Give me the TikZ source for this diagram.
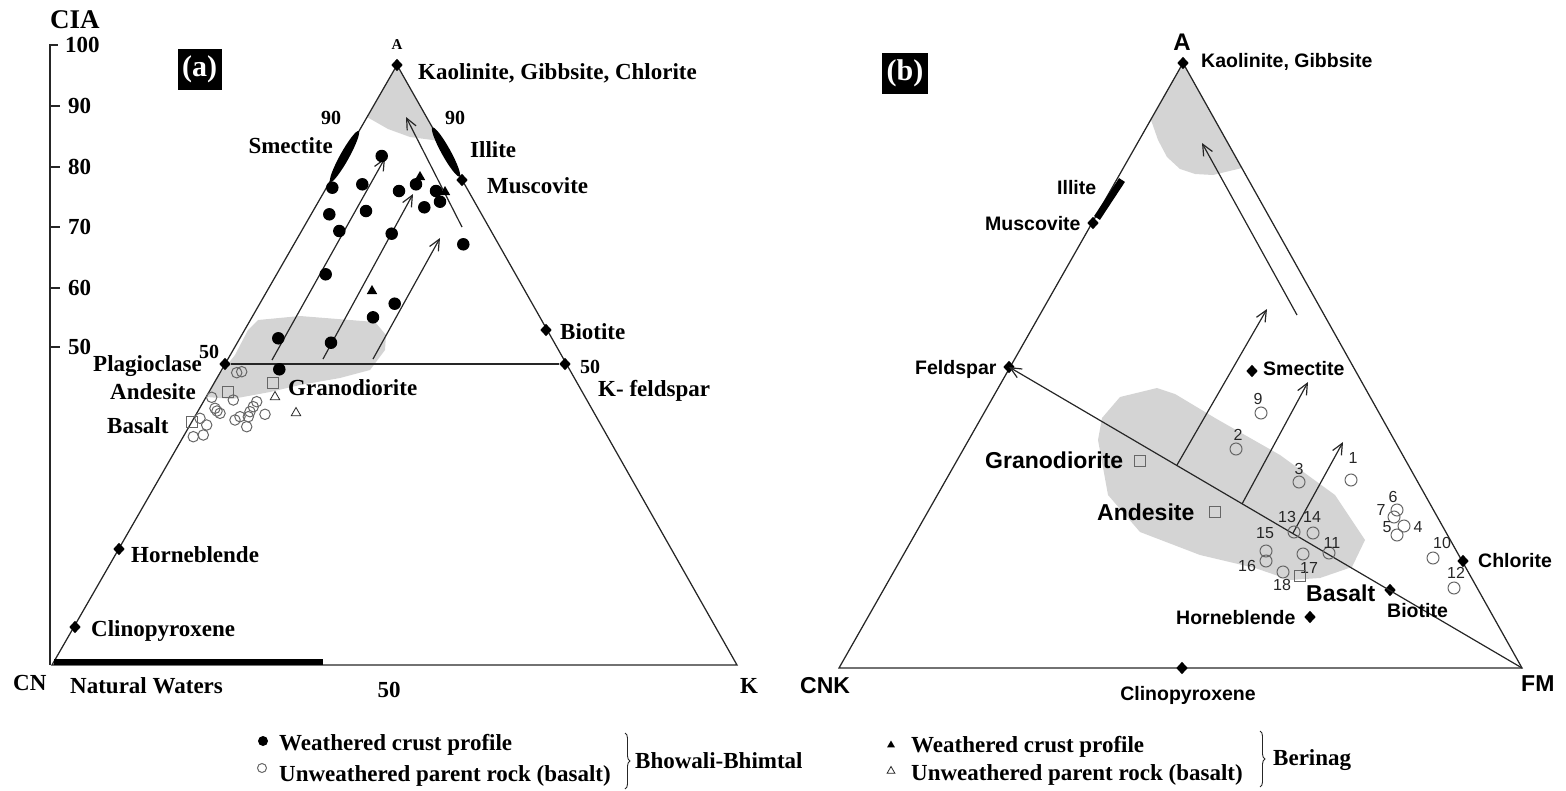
\documentclass[tikz,border=0pt]{standalone}
\usepackage{fontspec}
\setmainfont{Liberation Serif}
\setsansfont{Liberation Sans}
\usetikzlibrary{arrows.meta,shapes.geometric,decorations.pathreplacing}

\definecolor{ink}{HTML}{262626}
\definecolor{fieldgray}{HTML}{D4D4D4}
\definecolor{hollow}{HTML}{666666}

\begin{document}
\begin{tikzpicture}[x=1pt,y=-1pt,
  edge/.style={draw=ink, line width=1.25pt},
  trend/.style={draw=ink, line width=1.2pt, -{Straight Barb[length=11pt,width=10pt,line width=1.2pt]}},
  dia/.style={diamond, fill=black, inner sep=0pt, minimum width=11.5pt, minimum height=12.5pt},
  fdot/.style={circle, fill=black, inner sep=0pt, minimum size=12.5pt},
  odot/.style={circle, draw=hollow, line width=1pt, inner sep=0pt, minimum size=11pt},
  osq/.style={rectangle, draw=hollow, line width=1.1pt, inner sep=0pt, minimum size=11pt},
  ftri/.style={regular polygon, regular polygon sides=3, fill=black, inner sep=0pt, minimum size=12pt},
  otri/.style={regular polygon, regular polygon sides=3, draw=ink, line width=0.8pt, inner sep=0pt, minimum size=11pt},
  ta/.style={font=\bfseries\fontsize{23}{24}\selectfont, inner sep=0pt, text height=15pt, text depth=0pt},
  tsm/.style={font=\bfseries\fontsize{20}{21}\selectfont, inner sep=0pt, text height=13pt, text depth=0pt},
  tcia/.style={font=\bfseries\fontsize{27}{28}\selectfont, inner sep=0pt, text height=18pt, text depth=0pt},
  tb/.style={font=\sffamily\bfseries\fontsize{19.5}{20}\selectfont, inner sep=0pt, text height=14pt, text depth=0pt},
  tbl/.style={font=\sffamily\bfseries\fontsize{23}{24}\selectfont, inner sep=0pt, text height=16.5pt, text depth=0pt},
  tnum/.style={font=\sffamily\fontsize{16}{17}\selectfont, text=ink, inner sep=0pt, text height=11.5pt, text depth=0pt},
  boxlab/.style={fill=black, text=white, font=\bfseries\fontsize{30}{30}\selectfont, minimum width=44pt, minimum height=41pt, inner sep=0pt},
  bracket/.style={draw=ink, line width=0.9pt, decorate, decoration={brace, amplitude=5pt}}
]
\useasboundingbox (0,0) rectangle (1566,790);

% ================= Panel (a): A - CN - K =================
\coordinate (cn) at (52,665);
\coordinate (kk) at (737,665);
\coordinate (aa) at (397,65);

% grey fields
\fill[fieldgray] (397,65) -- (367,117) -- (388,129) -- (410,137) -- (440,141) -- cycle;
\fill[fieldgray] (258,320) -- (300,316) -- (375,322) -- (386,335) -- (385,350) -- (370,370)
  -- (340,378) -- (300,385) -- (270,392) -- (232,399) -- (207,397) -- (215,380)
  -- (235,355) -- (248,330) -- cycle;

% CIA scale
\draw[edge] (50,665) -- (50,45) -- (58,45);
\foreach \v/\yy in {90/106,80/167,70/227,60/288,50/347}
  \draw[edge] (50,\yy) -- (60,\yy);
\node[ta, anchor=west] (s100) at (65,45) {100};
\foreach \v/\yy in {90/106,80/167,70/227,60/288,50/347}
  \node[ta, anchor=west] (s\v) at (68,\yy) {\v};
\node[tcia] (cia) at (75,19) {CIA};

% triangle
\draw[edge] (cn) -- (aa) -- (kk) -- cycle;
\draw[line width=5.5pt, black] (54,662) -- (323,662);

% mineral end members
\node[dia] (aTop) at (aa) {};
\node[dia] (plag) at (225,364) {};
\node[dia] (kfel) at (565,364) {};
\node[dia] (musc) at (462,180) {};
\node[dia] (biot) at (546,330) {};
\node[dia] (hbl) at (119,549) {};
\node[dia] (cpx) at (75,627) {};
\draw[edge] (plag) -- (kfel);

% smectite and illite fields
\fill[black, rotate around={61:(344.5,156.5)}] (344.5,156.5) ellipse (29 and 4.5);
\fill[black, rotate around={-61:(446,152)}] (446,152) ellipse (28 and 4.5);

% weathering trends
\coordinate (t1s) at (272,360); \coordinate (t1e) at (385,158);
\coordinate (t2s) at (323,359); \coordinate (t2e) at (413,194);
\coordinate (t3s) at (373,359); \coordinate (t3e) at (440,238);
\coordinate (t4s) at (462,227); \coordinate (t4e) at (406,117);
\draw[trend] (t1s) -- (t1e);
\draw[trend] (t2s) -- (t2e);
\draw[trend] (t3s) -- (t3e);
\draw[trend] (t4s) -- (t4e);

% weathered crust profile, Bhowali-Bhimtal
\foreach \p [count=\i] in {(381.7,156),(332.3,187.7),(362.3,184.3),(399,191),(416,184.3),
  (436,191),(440,201.7),(424.3,207.3),(329.3,214.3),(366,211),(339.3,231),(391.7,233.7),
  (463.3,244.3),(325.7,274.3),(394.7,303.7),(373,317.3),(278.3,338.3),(331,342.7),(279.3,369.3)}
  \node[fdot] (w\i) at \p {};

% weathered crust profile, Berinag
\node[ftri] (wb1) at (420,177) {};
\node[ftri] (wb2) at (445,192) {};
\node[ftri] (wb3) at (372,291) {};

% unweathered basalt, Bhowali-Bhimtal
\foreach \p [count=\i] in {(236.7,372.7),(241.7,371.7),(211.7,397.3),(233.3,400),(215,408.3),
  (220,413.3),(217,411),(256.7,401.7),(253.3,406.7),(250,411.7),(248.3,416.7),(240,416.7),
  (235,420),(265,414.3),(246.7,426.7),(200,418.3),(206.7,425),(203.3,435),(193.3,436.7)}
  \node[odot, minimum size=10.5pt] (u\i) at \p {};

% unweathered basalt, Berinag
\node[otri] (ub1) at (275,397) {};
\node[otri] (ub2) at (296,413) {};

% reference rocks
\node[osq] (andA) at (228.3,391.7) {};
\node[osq] (graA) at (273.3,383.3) {};
\node[osq] (basA) at (191.7,421.7) {};

% labels
\node[boxlab] (pa) at (199.5,69.5) {(a)};
\node[font=\bfseries\fontsize{15}{15}\selectfont, inner sep=0pt] (la) at (397,45) {A};
\node[ta, anchor=west] at (418,72) {Kaolinite, Gibbsite, Chlorite};
\node[tsm] at (455,118) {90};
\node[tsm] at (331,118) {90};
\node[ta, anchor=east] at (333,146) {Smectite};
\node[ta, anchor=west] at (470,150) {Illite};
\node[ta, anchor=west] at (487,186) {Muscovite};
\node[ta, anchor=west] at (560,332) {Biotite};
\node[tsm, anchor=west] at (580,367) {50};
\node[ta, anchor=west] at (598,389) {K- feldspar};
\node[tsm, anchor=west] at (199,352) {50};
\node[ta, anchor=west] at (93,364) {Plagioclase};
\node[ta, anchor=west] at (110,392) {Andesite};
\node[ta, anchor=west] at (107,426) {Basalt};
\node[ta, anchor=west] at (288,388) {Granodiorite};
\node[ta, anchor=west] at (131,555) {Horneblende};
\node[ta, anchor=west] at (91,629) {Clinopyroxene};
\node[ta, anchor=west] at (13,683) {CN};
\node[ta, anchor=west] at (70,686) {Natural Waters};
\node[ta] at (389,690) {50};
\node[ta] at (749,686) {K};

% ================= Panel (b): A - CNK - FM =================
\coordinate (cnk) at (839,668);
\coordinate (fm) at (1522,668);
\coordinate (ab) at (1183,63);

\fill[fieldgray] (1183,63) -- (1151,120) -- (1158,140) -- (1167,157) -- (1180,169) -- (1195,174)
  -- (1213,175) -- (1242,168) -- cycle;
\fill[fieldgray] (1120,397) -- (1157,388) -- (1175,394) -- (1215,418) -- (1280,455) -- (1335,495)
  -- (1365,540) -- (1352,567) -- (1320,578) -- (1290,580) -- (1255,568) -- (1200,555)
  -- (1140,532) -- (1108,495) -- (1098,440) -- (1102,418) -- cycle;

\draw[edge] (cnk) -- (ab) -- (fm) -- cycle;

\node[dia] (bTop) at (ab) {};
\node[dia] (bmus) at (1093,223) {};
\node[dia] (bfel) at (1009,367) {};
\node[dia] (bsme) at (1252,371) {};
\node[dia] (bchl) at (1463,561) {};
\node[dia] (bbio) at (1390,590) {};
\node[dia] (bhbl) at (1310,617) {};
\node[dia] (bcpx) at (1182,668) {};

\draw[line width=7pt, black] (1122,180) -- (1097,218);

\draw[trend] (fm) -- (bfel.center);
\coordinate (r1s) at (1177,465); \coordinate (r1e) at (1267,309);
\coordinate (r2s) at (1242,504); \coordinate (r2e) at (1308,382);
\coordinate (r3s) at (1293,533); \coordinate (r3e) at (1343,442);
\coordinate (r4s) at (1297,315); \coordinate (r4e) at (1202,143);
\draw[trend] (r1s) -- (r1e);
\draw[trend] (r2s) -- (r2e);
\draw[trend] (r3s) -- (r3e);
\draw[trend] (r4s) -- (r4e);

% samples
\foreach \n/\cx/\cy/\lx/\ly in {9/1261/413/1258/399, 2/1236/449/1238/435, 3/1299/482/1299/469,
  1/1351/480/1353/458, 6/1397/510/1393/497, 7/1394/517/1381/510, 5/1397/535/1387/527,
  4/1404/526/1418/527, 10/1433/558/1442/543, 12/1454/588/1456/573, 13/1294/532/1287/517,
  14/1313/533/1312/517, 11/1329/553/1332/543, 15/1266/551/1265/533, 16/1266/561/1247/566,
  17/1303/554/1309/568, 18/1283/572/1282/585}
{
  \node[odot, minimum size=12pt] (p\n) at (\cx,\cy) {};
  \node[tnum] (n\n) at (\lx,\ly) {\n};
}

\node[osq] (bgra) at (1140,461) {};
\node[osq] (band) at (1215,512) {};
\node[osq] (bbas) at (1300,576) {};

\node[boxlab, minimum width=46pt] (pb) at (905,73.5) {(b)};
\node[tbl, font=\sffamily\bfseries\fontsize{24}{24}\selectfont] at (1182,42) {A};
\node[tb, anchor=west] at (1201,60) {Kaolinite, Gibbsite};
\node[tb, anchor=west] at (1057,187) {Illite};
\node[tb, anchor=west] at (985,223) {Muscovite};
\node[tb, anchor=west] at (915,367) {Feldspar};
\node[tb, anchor=west] at (1263,368) {Smectite};
\node[tbl, anchor=west] at (985,460) {Granodiorite};
\node[tbl, anchor=west] at (1097,512) {Andesite};
\node[tbl, anchor=west] at (1306,593) {Basalt};
\node[tb, anchor=west] at (1176,617) {Horneblende};
\node[tb, anchor=west] at (1387,610) {Biotite};
\node[tb, anchor=west] at (1478,560) {Chlorite};
\node[tbl, anchor=west] at (800,685) {CNK};
\node[tbl, anchor=west] at (1521,683) {FM};
\node[tb] at (1188,693) {Clinopyroxene};

% ================= Legend =================
\node[fdot, minimum size=10pt] (lg1) at (263,741) {};
\node[ta, anchor=west] at (279,743) {Weathered crust profile};
\node[odot, minimum size=9pt] (lg2) at (262,768) {};
\node[ta, anchor=west] at (279,774) {Unweathered parent rock (basalt)};
\coordinate (br1a) at (625,733); \coordinate (br1b) at (625,789);
\draw[bracket] (br1a) -- (br1b);
\node[ta, anchor=west] at (635,761) {Bhowali-Bhimtal};

\node[ftri, minimum size=9pt] (lg3) at (891,745) {};
\node[ta, anchor=west] at (911,745) {Weathered crust profile};
\node[otri, minimum size=9pt] (lg4) at (891,771) {};
\node[ta, anchor=west] at (911,773) {Unweathered parent rock (basalt)};
\coordinate (br2a) at (1260,731); \coordinate (br2b) at (1260,787);
\draw[bracket] (br2a) -- (br2b);
\node[ta, anchor=west] at (1273,758) {Berinag};
\end{tikzpicture}
\end{document}
